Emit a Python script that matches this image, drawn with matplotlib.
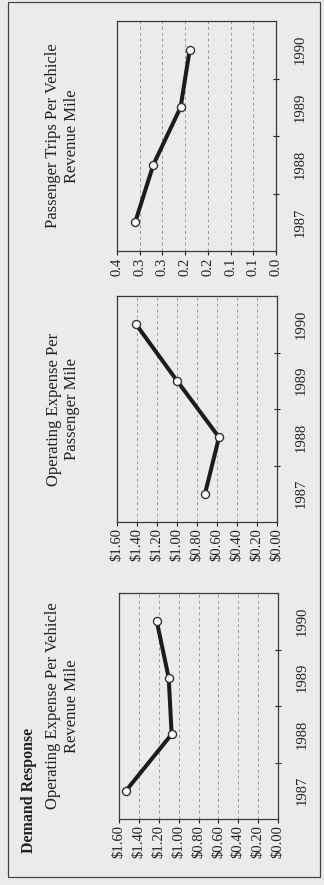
import matplotlib
matplotlib.use("Agg")
import matplotlib.pyplot as plt
from matplotlib.patches import Rectangle
from matplotlib.ticker import FixedLocator

plt.rcParams['font.family'] = ['Liberation Serif', 'DejaVu Serif']

years = ["1987", "1988", "1989", "1990"]

# Demand response performance measures
trips_per_vrm = [0.31, 0.27, 0.21, 0.19]
opex_per_pass_mile = [0.72, 0.58, 1.00, 1.41]
opex_per_vrm = [1.53, 1.07, 1.10, 1.22]

trips_ticks = [0.0, 0.05, 0.10, 0.15, 0.20, 0.25, 0.30, 0.35]
trips_labels = ["0.0", "0.1", "0.1", "0.2", "0.2", "0.3", "0.3", "0.4"]
dollar_ticks = [0.0, 0.2, 0.4, 0.6, 0.8, 1.0, 1.2, 1.4, 1.6]
dollar_labels = ["$0.00", "$0.20", "$0.40", "$0.60", "$0.80",
                 "$1.00", "$1.20", "$1.40", "$1.60"]

panels = [
    ("Passenger Trips Per Vehicle\nRevenue Mile", trips_per_vrm,
     trips_ticks, trips_labels),
    ("Operating Expense Per\nPassenger Mile", opex_per_pass_mile,
     dollar_ticks, dollar_labels),
    ("Operating Expense Per Vehicle\nRevenue Mile", opex_per_vrm,
     dollar_ticks, dollar_labels),
]

W, H = 324, 885
BG = "#ebebeb"
INK = "#222222"

fig = plt.figure(figsize=(W / 100, H / 100), dpi=100, facecolor=BG)

# page frame
fig.patches.append(Rectangle((8 / W, 1 - 877 / H), (320 - 8) / W, (877 - 2) / H,
                             transform=fig.transFigure, fill=False,
                             edgecolor="#444444", linewidth=0.9))

# axes boxes in pixels: left, top, right, bottom
boxes = [(117, 21, 276, 251), (117, 296, 277, 522), (119, 593, 278, 819)]

for (title, values, ticks, labels), (l, t, r, b) in zip(panels, boxes):
    ax = fig.add_axes([l / W, 1 - b / H, (r - l) / W, (b - t) / H])
    ax.set_facecolor(BG)
    pos = list(range(len(years)))
    ax.plot(values, pos, color="#1c1c1c", linewidth=2.9, solid_capstyle="round",
            marker="o", markersize=5.8, markerfacecolor="white",
            markeredgecolor="#333333", markeredgewidth=1.0, zorder=3)
    ax.set_xlim(ticks[-1], ticks[0])
    ax.set_ylim(-0.5, len(years) - 0.5)

    ax.set_xticks(ticks)
    ax.set_xticklabels(labels, rotation=90, fontsize=10.5)
    ax.tick_params(axis="x", direction="out", length=3, width=0.8,
                   pad=1.5, colors=INK)
    ax.grid(axis="x", color="#9a9a9a", linestyle=(0, (3, 3)), linewidth=0.7)

    ax.yaxis.tick_right()
    ax.set_yticks(pos)
    ax.set_yticklabels(years, rotation=90, va="center", fontsize=10.5)
    ax.yaxis.set_minor_locator(FixedLocator([p + 0.5 for p in pos[:-1]]))
    ax.tick_params(axis="y", which="major", length=0, pad=13, colors=INK)
    ax.tick_params(axis="y", which="minor", length=4, width=0.8,
                   direction="inout", colors=INK)
    for s in ax.spines.values():
        s.set_color("#3a3a3a")
        s.set_linewidth(0.9)

    fig.text(63 / W, 1 - ((t + b) / 2) / H, title, rotation=90,
             ha="center", va="center", multialignment="center",
             fontsize=12, linespacing=1.25, color=INK)

fig.text(29 / W, 1 - 853 / H, "Demand Response", rotation=90,
         ha="center", va="bottom", fontsize=11.5, fontweight="bold",
         color=INK)

fig.savefig("out.png", dpi=100, facecolor=BG)
